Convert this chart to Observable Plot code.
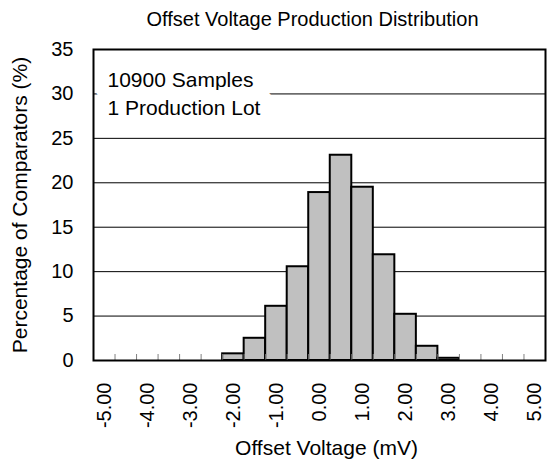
<!DOCTYPE html>
<html><head><meta charset="utf-8">
<script src="https://cdn.jsdelivr.net/npm/d3@7"></script>
<script src="https://cdn.jsdelivr.net/npm/@observablehq/plot@0.6"></script>
<style>
body{margin:0;background:#fff}
svg{font-family:"Liberation Sans",Arial,sans-serif}
</style>
</head><body><div id="chart"></div>
<script>
const voltages = [-5.0,-4.5,-4.0,-3.5,-3.0,-2.5,-2.0,-1.5,-1.0,-0.5,0.0,0.5,1.0,1.5,2.0,2.5,3.0,3.5,4.0,4.5,5.0];
const percents = [0,0,0,0,0,0,0.75,2.5,6.1,10.55,18.9,23.1,19.5,11.9,5.2,1.6,0.25,0,0,0,0];
const tickValues = [-5,-4,-3,-2,-1,0,1,2,3,4,5];
const tickLabels = ["-5.00","-4.00","-3.00","-2.00","-1.00","0.00","1.00","2.00","3.00","4.00","5.00"];
const yTicks = [0,5,10,15,20,25,30,35];
const gridValues = [5,10,15,20,25,30];
const titleText = "Offset Voltage Production Distribution";
const xLabel = "Offset Voltage (mV)";
const yLabel = "Percentage of Comparators (%)";
const textBoxLines = ["10900 Samples","1 Production Lot"];
const binWidth = 0.5;

const bins = voltages.map((v,i)=>({x1:v-binWidth/2, x2:v+binWidth/2, y:percents[i]})).filter(d=>d.y>0);
const edges = voltages.slice(1).map(v=>v-binWidth/2);
const xDomain = [voltages[0]-binWidth/2, voltages[voltages.length-1]+binWidth/2];

const plot = Plot.plot({
  width:547, height:469,
  marginLeft:93, marginRight:2, marginTop:49, marginBottom:109,
  style:{fontFamily:'"Liberation Sans",Arial,sans-serif', fontSize:"20px", color:"#000", background:"#fff", overflow:"visible"},
  x:{domain:xDomain},
  y:{domain:[0,35]},
  marks:[
    Plot.ruleY(gridValues,{stroke:"#000", strokeWidth:1}),
    Plot.text([textBoxLines.join("\n")], {frameAnchor:"top-left", dx:14, dy:17, textAnchor:"start", lineAnchor:"top", lineHeight:1.35, fontSize:21, fill:"#000", stroke:"#fff", strokeWidth:28, strokeLinejoin:"round"}),
    Plot.rectY(bins,{x1:"x1", x2:"x2", y:"y", fill:"#c0c0c0", stroke:"#000", strokeWidth:2}),
    Plot.ruleX(edges,{y1:0, y2:0, insetTop:-6, stroke:"#808080", strokeWidth:1}),
    Plot.axisX({ticks:tickValues, tickFormat:d=>tickLabels[tickValues.indexOf(d)], tickSize:0, tickPadding:22, tickRotate:-90, label:null, fontSize:20}),
    Plot.axisY({ticks:yTicks, tickSize:0, tickPadding:20, label:null, fontSize:20}),
    Plot.frame({stroke:"#000", strokeWidth:2}),
    Plot.text([titleText], {frameAnchor:"top", dx:-7, dy:-30, fontSize:20, lineAnchor:"middle"}),
    Plot.text([xLabel], {frameAnchor:"bottom", dx:7, dy:88, fontSize:21, lineAnchor:"middle"}),
    Plot.text([yLabel], {frameAnchor:"left", dx:-73, rotate:-90, textAnchor:"middle", fontSize:21, lineAnchor:"middle"})
  ]
});
document.getElementById("chart").appendChild(plot);
</script>
</body></html>
